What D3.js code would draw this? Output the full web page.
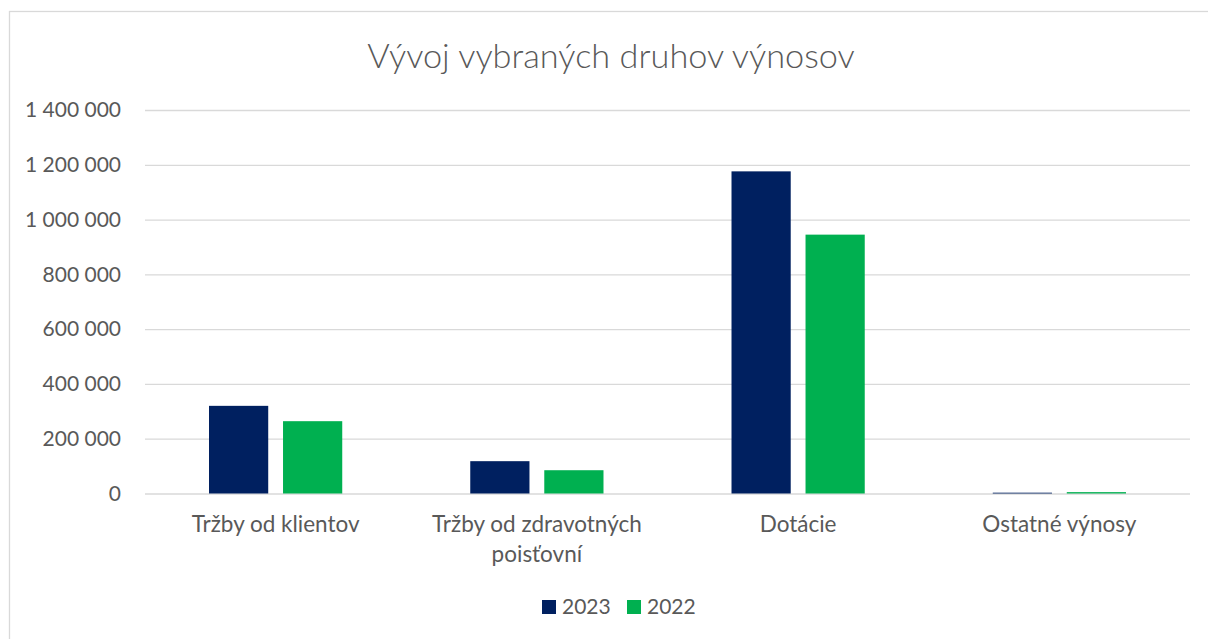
<!DOCTYPE html>
<html>
<head>
<meta charset="utf-8">
<script src="https://cdn.jsdelivr.net/npm/d3@7"></script>
<style>
  body { margin: 0; background: #fff; }
  svg { display: block; font-family: Lato, "Open Sans", sans-serif; }
</style>
</head>
<body>
<svg id="chart" width="1208" height="639"></svg>
<script>
// chart data
const categories = ["Tržby od klientov", "Tržby od zdravotných poisťovní", "Dotácie", "Ostatné výnosy"];
const categoryLines = [["Tržby od klientov"], ["Tržby od zdravotných", "poisťovní"], ["Dotácie"], ["Ostatné výnosy"]];
const seriesNames = ["2023", "2022"];
const values2023 = [320000, 118000, 1176000, 3000];
const values2022 = [264000, 85000, 945000, 5000];
const yTicks = [0, 200000, 400000, 600000, 800000, 1000000, 1200000, 1400000];
const colors = ["#002060", "#00B050"];

const svg = d3.select("#chart");
const plot = { left: 145, right: 1190, top: 110, bottom: 493.5 };
const textColor = "#595959";

// outer frame
svg.append("rect")
    .attr("x", 9.5).attr("y", 11.5)
    .attr("width", 1210).attr("height", 640)
    .attr("fill", "#fff")
    .attr("stroke", "#d9d9d9")
    .attr("stroke-width", 1.3);

svg.append("text")
    .attr("x", 611).attr("y", 68)
    .attr("text-anchor", "middle")
    .attr("fill", textColor)
    .attr("font-size", 34.3)
    .attr("font-weight", 300)
    .text("Vývoj vybraných druhov výnosov");

const rows = categories.map((c, i) => ({ cat: c, vals: [values2023[i], values2022[i]] }));

const y = d3.scaleLinear().domain([0, 1400000]).range([plot.bottom, plot.top]);
const x0 = d3.scaleBand().domain(categories).range([plot.left, plot.right])
    .paddingInner(0.49).paddingOuter(0.245);
const x1 = d3.scaleBand().domain(seriesNames).range([0, x0.bandwidth()]).paddingInner(0.2);

const fmt = d3.formatLocale({ decimal: ",", thousands: " ", grouping: [3], currency: ["", ""] }).format(",d");

// gridlines + y labels
const yAxis = svg.append("g")
    .attr("transform", `translate(${plot.left},0)`)
    .call(d3.axisLeft(y).tickValues(yTicks).tickSize(-(plot.right - plot.left)).tickPadding(24).tickFormat(fmt));
yAxis.select(".domain").remove();
yAxis.selectAll(".tick line").attr("stroke", "#d9d9d9").attr("stroke-width", 1.3);
yAxis.selectAll(".tick text")
    .attr("fill", textColor)
    .attr("font-size", 21)
    .attr("font-family", "Lato, sans-serif");

// bars
const groups = svg.append("g").selectAll("g")
    .data(rows)
    .join("g")
    .attr("transform", d => `translate(${x0(d.cat)},0)`);

groups.selectAll("rect")
    .data(d => d.vals.map((v, i) => ({ s: seriesNames[i], v, i })))
    .join("rect")
    .attr("x", d => x1(d.s))
    .attr("width", x1.bandwidth())
    .attr("y", d => y(d.v))
    .attr("height", d => y(0) - y(d.v))
    .attr("fill", d => colors[d.i]);

// category labels
const catLabels = svg.append("g").selectAll("text")
    .data(categories)
    .join("text")
    .attr("x", d => x0(d) + x0.bandwidth() / 2)
    .attr("y", 532)
    .attr("text-anchor", "middle")
    .attr("fill", textColor)
    .attr("font-size", 22.5);
catLabels.each(function(d, i) {
    const t = d3.select(this);
    categoryLines[i].forEach((line, j) => {
        t.append("tspan")
            .attr("x", x0(d) + x0.bandwidth() / 2)
            .attr("dy", j === 0 ? 0 : 30)
            .text(line);
    });
});

// legend
const legendX = [542, 627];
const legend = svg.append("g").selectAll("g")
    .data(seriesNames)
    .join("g")
    .attr("transform", (d, i) => `translate(${legendX[i]},600)`);
legend.append("rect")
    .attr("width", 14).attr("height", 14)
    .attr("fill", (d, i) => colors[i]);
legend.append("text")
    .attr("x", 20).attr("y", 14)
    .attr("fill", textColor)
    .attr("font-size", 21)
    .text(d => d);
</script>
</body>
</html>
